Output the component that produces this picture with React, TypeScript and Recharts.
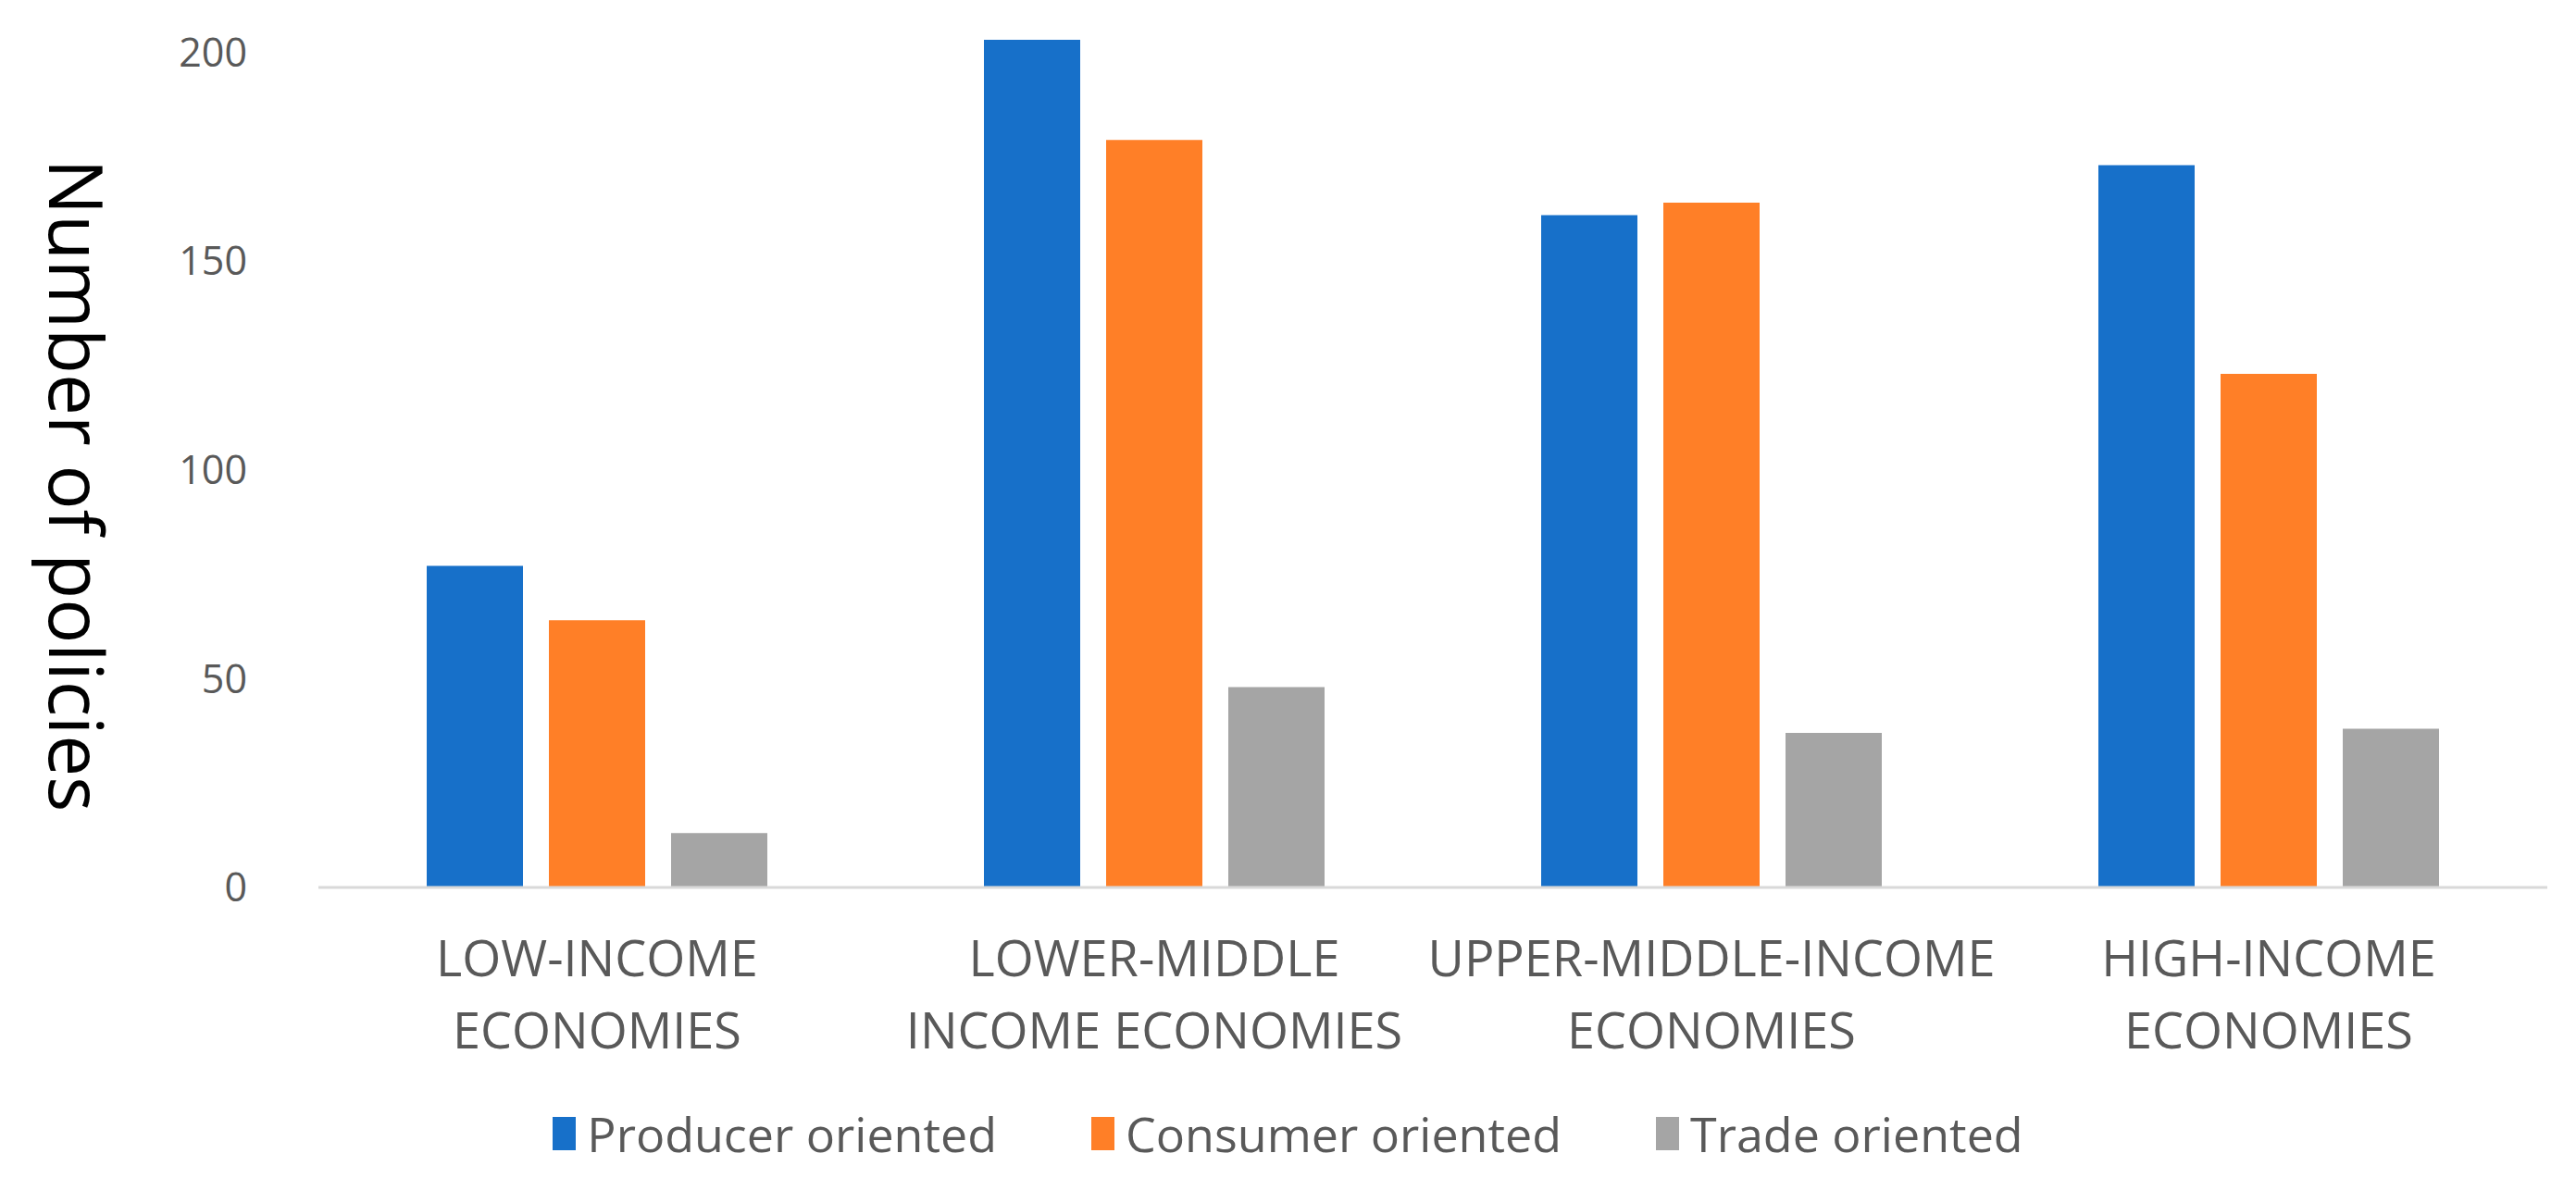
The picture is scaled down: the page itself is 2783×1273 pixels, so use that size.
import { BarChart, Bar, XAxis, YAxis, Legend } from "recharts";

// ─── data ────────────────────────────────────────────────────────────────────
const categories = [
  "LOW-INCOME ECONOMIES",
  "LOWER-MIDDLE INCOME ECONOMIES",
  "UPPER-MIDDLE-INCOME ECONOMIES",
  "HIGH-INCOME ECONOMIES",
];
const categoryLines = [
  ["LOW-INCOME", "ECONOMIES"],
  ["LOWER-MIDDLE", "INCOME ECONOMIES"],
  ["UPPER-MIDDLE-INCOME", "ECONOMIES"],
  ["HIGH-INCOME", "ECONOMIES"],
];
const producer = [77, 203, 161, 173];
const consumer = [64, 179, 164, 123];
const trade    = [13, 48, 37, 38];
const yTicks   = [0, 50, 100, 150, 200];

const series = [
  { key: "producer", name: "Producer oriented", color: "#1770C9" },
  { key: "consumer", name: "Consumer oriented", color: "#FF7F27" },
  { key: "trade",    name: "Trade oriented",    color: "#A5A5A5" },
];

const data = categories.map((c, i) => ({
  category: c,
  producer: producer[i],
  consumer: consumer[i],
  trade:    trade[i],
}));

const FONT = "'Open Sans', 'Noto Sans', sans-serif";
const TEXT = "#595959";

function CategoryTick(props: any) {
  const { x, y, payload } = props;
  const idx = categories.indexOf(payload?.value);
  const lines = categoryLines[idx] ?? [String(payload?.value)];
  return (
    <text x={x} y={y} textAnchor="middle" fill={TEXT} fontSize={54} fontFamily={FONT}>
      {lines.map((l, i) => (
        <tspan key={i} x={x} dy={i === 0 ? 96 : 78}>{l}</tspan>
      ))}
    </text>
  );
}

function YTitle(props: any) {
  const { viewBox } = props;
  const cx = viewBox.x + 53;
  const cy = viewBox.y + viewBox.height / 2 + 28;
  return (
    <text
      x={cx} y={cy} textAnchor="middle" fill="#000" fontSize={80} fontFamily={FONT}
      transform={`rotate(90, ${cx}, ${cy})`}
    >
      Number of policies
    </text>
  );
}

function LegendContent() {
  return (
    <div style={{ display: "flex", justifyContent: "center", alignItems: "center", height: 70, fontFamily: FONT }}>
      {series.map((s, i) => (
        <div key={s.key} style={{ display: "flex", alignItems: "center", marginRight: i < series.length - 1 ? 102 : 0 }}>
          <span style={{ display: "inline-block", width: 25, height: 36, background: s.color, marginRight: 12 }} />
          <span style={{ fontSize: 52, color: TEXT, lineHeight: "70px" }}>{s.name}</span>
        </div>
      ))}
    </div>
  );
}

export default function App() {
  return (
    <div style={{ position: "absolute", left: 0, top: 0, width: 2783, height: 1273, background: "#fff" }}>
      <BarChart
        width={2783}
        height={1273}
        data={data}
        margin={{ top: 34, right: 31, bottom: 0, left: 0 }}
        barSize={104}
        barGap={28}
      >
        <XAxis
          dataKey="category"
          height={314}
          interval={0}
          tick={<CategoryTick />}
          tickLine={false}
          tickSize={0}
          tickMargin={0}
          axisLine={{ stroke: "#D9D9D9", strokeWidth: 3 }}
        />
        <YAxis
          width={344}
          domain={[0, 205]}
          ticks={yTicks}
          allowDataOverflow
          axisLine={false}
          tickLine={false}
          tickSize={0}
          tickMargin={77}
          tick={{ fill: TEXT, fontSize: 43, fontFamily: FONT }}
          label={<YTitle />}
        />
        <Legend
          layout="horizontal"
          verticalAlign="middle"
          align="center"
          wrapperStyle={{ top: 1190, left: 0, width: 2783 }}
          content={<LegendContent />}
        />
        {series.map((s) => (
          <Bar key={s.key} dataKey={s.key} name={s.name} fill={s.color} isAnimationActive={false} />
        ))}
      </BarChart>
    </div>
  );
}
